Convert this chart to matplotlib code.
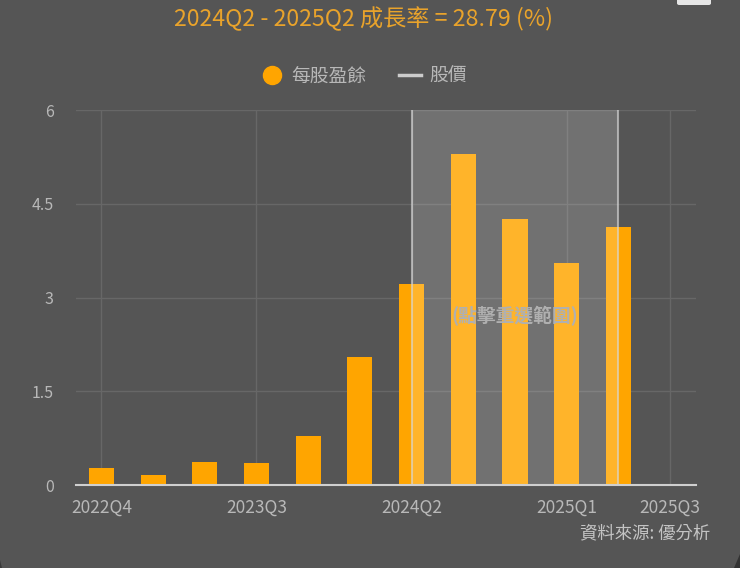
import matplotlib
matplotlib.use('Agg')
import matplotlib.pyplot as plt
from matplotlib.lines import Line2D
from matplotlib.patches import FancyBboxPatch, Polygon

plt.rcParams['font.family'] = ['Noto Sans CJK TC', 'DejaVu Sans']

quarters = ['2022Q4', '2023Q1', '2023Q2', '2023Q3', '2023Q4', '2024Q1',
            '2024Q2', '2024Q3', '2024Q4', '2025Q1', '2025Q2', '2025Q3']
eps = [0.27, 0.16, 0.37, 0.35, 0.79, 2.05, 3.22, 5.30, 4.25, 3.55, 4.13]
y_ticks = [0, 1.5, 3, 4.5, 6]
y_labels = ['0', '1.5', '3', '4.5', '6']
x_labels = ['2022Q4', '2023Q3', '2024Q2', '2025Q1', '2025Q3']
range_start = '2024Q2'
range_end = '2025Q2'

BG = '#555555'
ORANGE = '#ffa500'
TEXT = '#b8b8b8'

W, H = 740, 568
fig = plt.figure(figsize=(W / 100, H / 100), dpi=100, facecolor=BG)
ax = fig.add_axes([76 / W, 1 - 485 / H, 620 / W, 375 / H], facecolor=BG)

x = list(range(len(quarters)))
ax.bar(x[:len(eps)], eps, width=0.485, color=ORANGE, zorder=3)

# selected range, drawn over the bars
x0, x1 = quarters.index(range_start), quarters.index(range_end)
ax.axvspan(x0, x1, color='white', alpha=0.17, lw=0, zorder=4)
for v in (x0, x1):
    ax.axvline(v, color='#d8d8d8', lw=1.5, alpha=0.65, zorder=5)
ax.text((x0 + x1) / 2, 2.71, '(點擊重選範圍)', color='#b0b0b0', fontsize=13.5,
        weight='bold', ha='center', va='center', zorder=6)

ax.set_xlim(-0.49, 11.5)
ax.set_ylim(0, 6)
ax.set_yticks(y_ticks, y_labels)
ax.set_xticks([quarters.index(q) for q in x_labels], x_labels)
ax.grid(True, color='#676767', lw=1, zorder=1)
ax.set_axisbelow(True)
ax.tick_params(length=0, colors=TEXT)
ax.tick_params(axis='y', pad=16, labelsize=11.5)
ax.tick_params(axis='x', pad=10, labelsize=12.5)
for name in ('top', 'right', 'left'):
    ax.spines[name].set_visible(False)
ax.spines['bottom'].set_color('#cfcfcf')
ax.spines['bottom'].set_linewidth(1.5)
ax.spines['bottom'].set_zorder(7)

fig.text(363 / W, 1 - 19 / H, '2024Q2 - 2025Q2 成長率 = 28.79 (%)', color='#e9a32b',
         fontsize=16.7, ha='center', va='center')

handles = [Line2D([], [], marker='o', ls='none', color=ORANGE, markersize=13),
           Line2D([], [], color='#cccccc', lw=2.5)]
fig.legend(handles, ['每股盈餘', '股價'], loc='center', bbox_to_anchor=(364 / W, 1 - 76 / H),
           frameon=False, ncol=2, fontsize=13.5, labelcolor=TEXT, handlelength=1.15,
           handletextpad=0.45, columnspacing=1.75)

fig.text(710 / W, 1 - 533 / H, '資料來源: 優分析', color='#c4c4c4', fontsize=12.5,
         ha='right', va='center')

# button stub at the top right of the screenshot
fig.add_artist(FancyBboxPatch((677 / W, 1 - 5 / H), 34 / W, 8 / H, boxstyle='round,pad=0,rounding_size=0.003',
                              transform=fig.transFigure, fc='#e6e6e6', ec='none'))
# dark rounded corners at the bottom of the screenshot
fig.add_artist(Polygon([(1, 0), (1, 14 / H), (1 - 6 / W, 0)], transform=fig.transFigure, fc='#333333', ec='none'))
fig.add_artist(Polygon([(0, 0), (0, 8 / H), (2 / W, 0)], transform=fig.transFigure, fc='#3a3a3a', ec='none'))

fig.savefig('out.png', dpi=100, facecolor=BG)
